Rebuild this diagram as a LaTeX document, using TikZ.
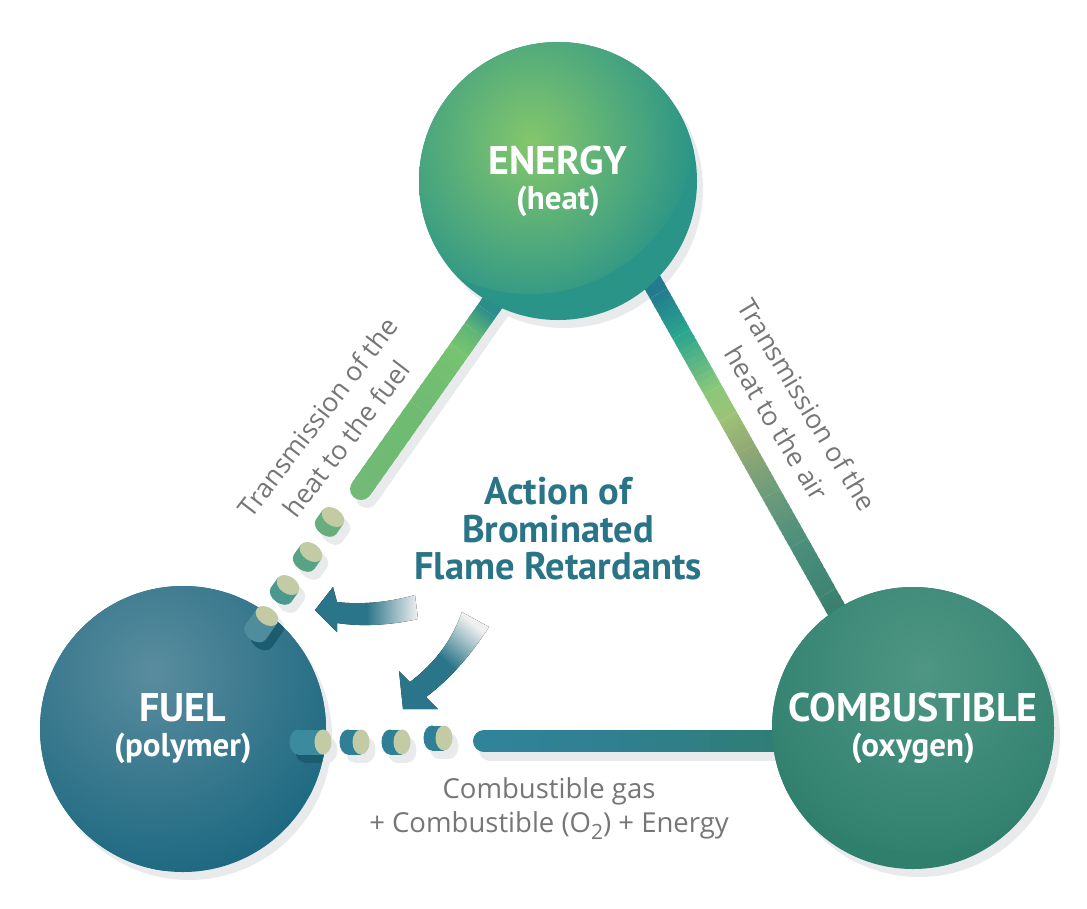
\documentclass[tikz,border=0pt]{standalone}
\usepackage{fontspec}
\setmainfont{PT Sans}
\newfontfamily\opensans{Open Sans}
\usetikzlibrary{calc}
\pgfdeclarelayer{shadowlayer}
\pgfdeclarelayer{barlayer}
\pgfsetlayers{shadowlayer,barlayer,main}

\definecolor{enOut}{HTML}{2A9488}
\definecolor{enIn}{HTML}{84C76B}
\definecolor{fuOut}{HTML}{1F6A82}
\definecolor{fuIn}{HTML}{5A8C9E}
\definecolor{coOut}{HTML}{2F7F6D}
\definecolor{coIn}{HTML}{4F9684}
\definecolor{shadowc}{HTML}{E8EAEC}
\definecolor{fushad}{HTML}{1B5C70}
\definecolor{arrowc}{HTML}{2A7589}
\definecolor{titlec}{HTML}{2A7488}
\definecolor{grayt}{HTML}{767676}
\definecolor{capc}{HTML}{C2CBA3}
% left bar
\definecolor{lba}{HTML}{2B8E8A}
\definecolor{lbb}{HTML}{5FB578}
\definecolor{lbc}{HTML}{76C371}
\definecolor{lbd}{HTML}{6FBB72}
\definecolor{lbe}{HTML}{72BA75}
% right bar
\definecolor{rba}{HTML}{247E8F}
\definecolor{rbb}{HTML}{237C8E}
\definecolor{rbc}{HTML}{2AA58F}
\definecolor{rbd}{HTML}{8AC87A}
\definecolor{rbe}{HTML}{9CC277}
\definecolor{rbf}{HTML}{93A973}
\definecolor{rbg}{HTML}{6C9B7B}
\definecolor{rbh}{HTML}{4C8F7C}
\definecolor{rbi}{HTML}{3E8472}
\definecolor{rbj}{HTML}{34715F}
% bottom bar
\definecolor{bba}{HTML}{30849A}
\definecolor{bbb}{HTML}{2F8090}
\definecolor{bbc}{HTML}{2E7D72}
% dots
\definecolor{dla}{HTML}{68AD7D}
\definecolor{dlb}{HTML}{58A286}
\definecolor{dlc}{HTML}{4B9891}
\definecolor{dld}{HTML}{4F8D9C}
\definecolor{dba}{HTML}{3B8A9E}
\definecolor{dbb}{HTML}{2F7F96}

\newcommand{\barw}{22pt}
\newcommand{\gseg}[4]{%
  \foreach \i in {0,...,9}{%
    \pgfmathsetmacro{\ta}{\i/10}%
    \pgfmathsetmacro{\tb}{min((\i+1.4)/10,1)}%
    \pgfmathtruncatemacro{\pc}{100-(\i+0.5)*10}%
    \colorlet{gtmp}{#3!\pc!#4}%
    \draw[gtmp, line width=\barw] ($(#1)!\ta!(#2)$) -- ($(#1)!\tb!(#2)$);
  }}
\newcommand{\cylshadow}[4]{%
  \begin{scope}[shift={#1}, shift={(6,8)}, rotate=#2]
    \fill[#4] (0,-12.5) rectangle (#3,12.5);
    \fill[#4] (#3,0) ellipse (8.5 and 12.5);
    \fill[#4] (0,0) ellipse (8.5 and 12.5);
  \end{scope}}
\newcommand{\cylbody}[5]{%
  \begin{scope}[shift={#1}, rotate=#2]
    \fill[#4] (0,-12.5) rectangle (#3,12.5);
    \fill[#4] (#3,0) ellipse (8.5 and 12.5);
    \fill[#5] (0,0) ellipse (8.5 and 12.5);
  \end{scope}}

\tikzset{
  circlenode/.style={circle, inner sep=0pt, text=white, align=center,
    font=\bfseries\fontsize{40}{35}\selectfont},
  grayl/.style={text=grayt, font=\opensans\fontsize{26.5}{36}\selectfont, align=center, inner sep=0pt},
  titlel/.style={text=titlec, font=\bfseries\fontsize{38.5}{37.5}\selectfont, align=center, inner sep=0pt}
}

\begin{document}
\begin{tikzpicture}[x=1pt,y=-1pt]
\useasboundingbox (0,0) rectangle (1087,908);

% circles
\node[circlenode, minimum size=278pt, fill=enOut,
  path picture={\shade[inner color=enIn, outer color=enOut] ($(path picture bounding box.center)+(-28,-52)$) circle (165);}]
  (energy) at (558,181) {ENERGY\\{\fontsize{33}{35}\selectfont (heat)}};
\node[circlenode, minimum size=286pt, fill=fuOut,
  path picture={\shade[inner color=fuIn, outer color=fuOut] ($(path picture bounding box.center)+(-30,-58)$) circle (200);}]
  (fuel) at (183,729) {FUEL\\{\fontsize{33}{35}\selectfont (polymer)}};
\node[circlenode, minimum size=282pt, fill=coOut,
  path picture={\shade[inner color=coIn, outer color=coOut] ($(path picture bounding box.center)+(10,-66)$) circle (190);}]
  (comb) at (913,728) {COMBUSTIBLE\\{\fontsize{33}{35}\selectfont (oxygen)}};

% connector coordinates
\coordinate (LB0) at (534.1,243.9);
\coordinate (LB1) at (486.8,310.9);
\coordinate (LB2) at (473.5,329.7);
\coordinate (LB3) at (459.1,350.1);
\coordinate (LB4) at (418.7,407.3);
\coordinate (LB5) at (361,489);
\coordinate (RB0) at (619.0,223.0);
\coordinate (RB1) at (658.6,293.4);
\coordinate (RB2) at (681.6,334.4);
\coordinate (RB3) at (712.5,389.4);
\coordinate (RB4) at (727.8,416.6);
\coordinate (RB5) at (746.2,449.3);
\coordinate (RB6) at (771.3,494.0);
\coordinate (RB7) at (798.9,543.0);
\coordinate (RB8) at (827.1,593.2);
\coordinate (RB9) at (861.8,655.0);
\coordinate (BB0) at (484,741);
\coordinate (BB1) at (620,741);
\coordinate (BB2) at (800,741);

% shadows
\begin{pgfonlayer}{shadowlayer}
  \fill[shadowc] ($(energy.center)+(6,8)$) circle (139);
  \fill[shadowc] ($(fuel.center)+(6,8)$) circle (143);
  \fill[shadowc] ($(comb.center)+(6,8)$) circle (141);
  \draw[shadowc, line width=22pt, line cap=round] ($(LB0)+(6,8)$) -- ($(LB5)+(6,8)$);
  \draw[shadowc, line width=22pt, line cap=round] ($(BB0)+(6,9)$) -- ($(BB2)+(6,9)$);
  \cylshadow{(333,517)}{-125.2}{12}{shadowc}
  \cylshadow{(311,552)}{-125.2}{12}{shadowc}
  \cylshadow{(288,585)}{-125.2}{12}{shadowc}
  \cylshadow{(267,616)}{-125.2}{20}{shadowc}
  \cylshadow{(323,742)}{180}{25}{shadowc}
  \cylshadow{(361,742)}{180}{13}{shadowc}
  \cylshadow{(402,742)}{180}{12}{shadowc}
  \cylshadow{(444,738)}{180}{12}{shadowc}
\end{pgfonlayer}

% bars
\begin{pgfonlayer}{barlayer}
  \renewcommand{\barw}{22pt}
  \gseg{LB0}{LB1}{lba}{lba}
  \gseg{LB1}{LB2}{lba}{lbb}
  \gseg{LB2}{LB3}{lbb}{lbc}
  \gseg{LB3}{LB4}{lbc}{lbd}
  \gseg{LB4}{LB5}{lbd}{lbe}
  \fill[lbe] (LB5) circle (11);
  \renewcommand{\barw}{20pt}
  \gseg{RB0}{RB1}{rba}{rbb}
  \gseg{RB1}{RB2}{rbb}{rbc}
  \gseg{RB2}{RB3}{rbc}{rbd}
  \gseg{RB3}{RB4}{rbd}{rbe}
  \gseg{RB4}{RB5}{rbe}{rbf}
  \gseg{RB5}{RB6}{rbf}{rbg}
  \gseg{RB6}{RB7}{rbg}{rbh}
  \gseg{RB7}{RB8}{rbh}{rbi}
  \gseg{RB8}{RB9}{rbi}{rbj}
  \renewcommand{\barw}{22pt}
  \gseg{BB0}{BB1}{bba}{bbb}
  \gseg{BB1}{BB2}{bbb}{bbc}
  \fill[bba] (BB0) circle (11);
\end{pgfonlayer}

% dark shadows of dots on the fuel circle
\begin{scope}
  \clip (fuel.center) circle (143);
  \cylshadow{(267,616)}{-125.2}{20}{fushad}
  \cylshadow{(323,742)}{180}{25}{fushad}
\end{scope}

% dots
\cylbody{(333,517)}{-125.2}{12}{dla}{capc}
\cylbody{(311,552)}{-125.2}{12}{dlb}{capc}
\cylbody{(288,585)}{-125.2}{12}{dlc}{capc}
\cylbody{(267,616)}{-125.2}{20}{dld}{capc}
\cylbody{(323,742)}{180}{25}{dba}{capc}
\cylbody{(361,742)}{180}{13}{dbb}{capc}
\cylbody{(402,742)}{180}{12}{dbb}{capc}
\cylbody{(444,738)}{180}{12}{dbb}{capc}

% arrows of action
\fill[left color=arrowc, right color=gray!12, middle color=arrowc]
  (333,587) -- (315,610) -- (337,632) -- (337,623)
  .. controls (362,627) and (392,625) .. (418,619)
  -- (415,595) .. controls (390,602) and (362,605) .. (337,602) -- cycle;
\fill[top color=gray!12, bottom color=arrowc, middle color=arrowc, shading angle=-40]
  (462,612) .. controls (452,640) and (435,663) .. (410,682)
  -- (399,671) -- (403,709) -- (438,709) -- (426,697)
  .. controls (454,676) and (474,650) .. (489,627) -- cycle;

% texts
\node[titlel] (title) at (558,529) {Action of\\Brominated\\Flame Retardants};
\node[grayl, rotate=52.5] (ltext) at (332,428) {Transmission of the\\heat to the fuel};
\node[grayl, rotate=-59] (rtext) at (792,414) {Transmission of the\\heat to the air};
\node[grayl, font=\opensans\fontsize{27.5}{34}\selectfont] (btext) at (549,809) {Combustible gas\\+ Combustible (O\raisebox{-7pt}{\fontsize{21}{21}\selectfont 2}) + Energy};
\end{tikzpicture}
\end{document}
